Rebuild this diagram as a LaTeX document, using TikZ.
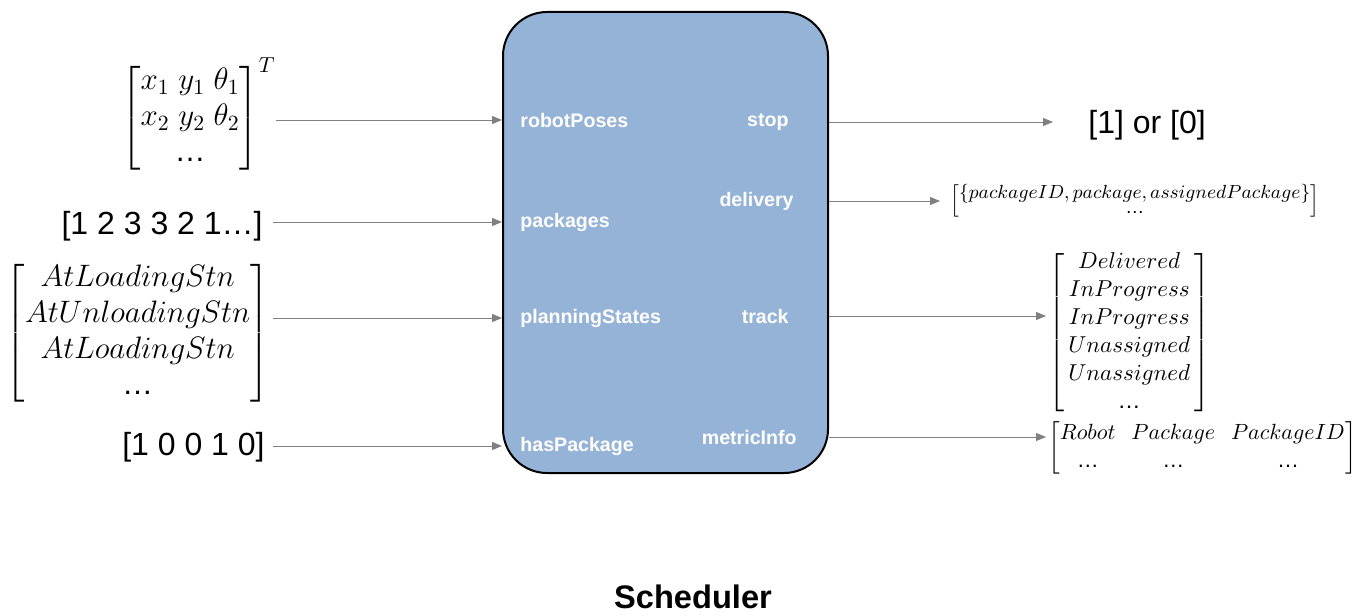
\RequirePackage{fix-cm}
\documentclass[tikz,border=0pt]{standalone}
\usepackage{amsmath}
\usepackage{fontspec}
\setmainfont{Liberation Sans}
\usetikzlibrary{arrows.meta, positioning}
\definecolor{BoxBlue}{RGB}{149, 179, 215}
\definecolor{WireGray}{RGB}{128, 128, 128}
\newcommand{\more}{\text{…}}

\begin{document}
\begin{tikzpicture}[
    x=0.5pt, y=-0.5pt,
    every node/.style={inner sep=0pt, align=center},
    block/.style={draw=black, line width=1pt, fill=BoxBlue, rounded corners=22pt,
                  minimum width=162.5pt, minimum height=230.5pt},
    port/.style={text=white, font=\fontsize{9.8}{12}\selectfont\bfseries},
    val/.style={font=\fontsize{16}{19}\selectfont},
    bigmat/.style={font=\fontsize{15.5}{18}\selectfont},
    outmat/.style={font=\fontsize{11.5}{14}\selectfont},
    wire/.style={-{Triangle[length=5pt, width=4pt]}, WireGray, line width=0.5pt}
]
\useasboundingbox (0,0) rectangle (1369,615);

\node[block] (sched) at (665.5,242.5) {};
\node[font=\fontsize{16.3}{20}\selectfont\bfseries] (title) at (693,597) {Scheduler};

% ports
\node[port, anchor=west] (rp) at (520,120) {robotPoses};
\node[port, anchor=west] (pk) at (520,222) {packages};
\node[port, anchor=west] (ps) at (520,318) {planningStates};
\node[port, anchor=west] (hp) at (520,446) {hasPackage};
\node[port, anchor=east] (st) at (789,122) {stop};
\node[port, anchor=east] (dl) at (794,201) {delivery};
\node[port, anchor=east] (tr) at (789,316) {track};
\node[port, anchor=east] (mi) at (797,437) {metricInfo};

% inputs
\node[bigmat, anchor=east] (poses) at (276,115)
  {$\left[\begin{matrix} x_1\;y_1\;\theta_1 \\ x_2\;y_2\;\theta_2 \\ \more \end{matrix}\right]^T$};
\node[val, anchor=east] (pkgs) at (263,226) {[1 2 3 3 2 1…]};
\node[bigmat, anchor=east] (states) at (270,333)
  {$\left[\begin{matrix} AtLoadingStn \\ AtUnloadingStn \\ AtLoadingStn \\ \more \end{matrix}\right]$};
\node[val, anchor=east] (flags) at (265,447) {[1 0 0 1 0]};

% outputs
\node[val, anchor=west] (stopval) at (1088,125) {[1] or [0]};
\node[anchor=west, font=\fontsize{9.5}{9.5}\selectfont] (dlv) at (950,201)
  {\renewcommand{\arraystretch}{0.8}$\left[\begin{matrix} \{packageID, package, assignedPackage\} \\ \more \end{matrix}\right]$};
\node[outmat, anchor=west] (trk) at (1048,333)
  {$\left[\,\begin{matrix} Delivered \\ InProgress \\ InProgress \\ Unassigned \\ Unassigned \\ \more \end{matrix}\,\right]$};
\node[outmat, anchor=west, font=\fontsize{11}{14}\selectfont] (met) at (1048,448)
  {\setlength{\arraycolsep}{4pt}$\left[\begin{matrix} Robot & Package & PackageID \\ \more & \more & \more \end{matrix}\right]$};

\draw[wire] (poses.east |- rp) -- (sched.west |- rp);
\draw[wire, shorten <=5pt] (pkgs.east |- pk) -- (sched.west |- pk);
\draw[wire, shorten <=1.5pt] (states.east |- ps) -- (sched.west |- ps);
\draw[wire, shorten <=4pt] (flags.east |- hp) -- (sched.west |- hp);

\draw[wire, shorten >=17.5pt] (sched.east |- st) -- (stopval.west |- st);
\draw[wire, shorten >=5pt] (sched.east |- dl) -- (dlv.west |- dl);
\draw[wire, shorten >=1pt] (sched.east |- tr) -- (trk.west |- tr);
\draw[wire, shorten >=1pt] (sched.east |- mi) -- (met.west |- mi);
\end{tikzpicture}
\end{document}
